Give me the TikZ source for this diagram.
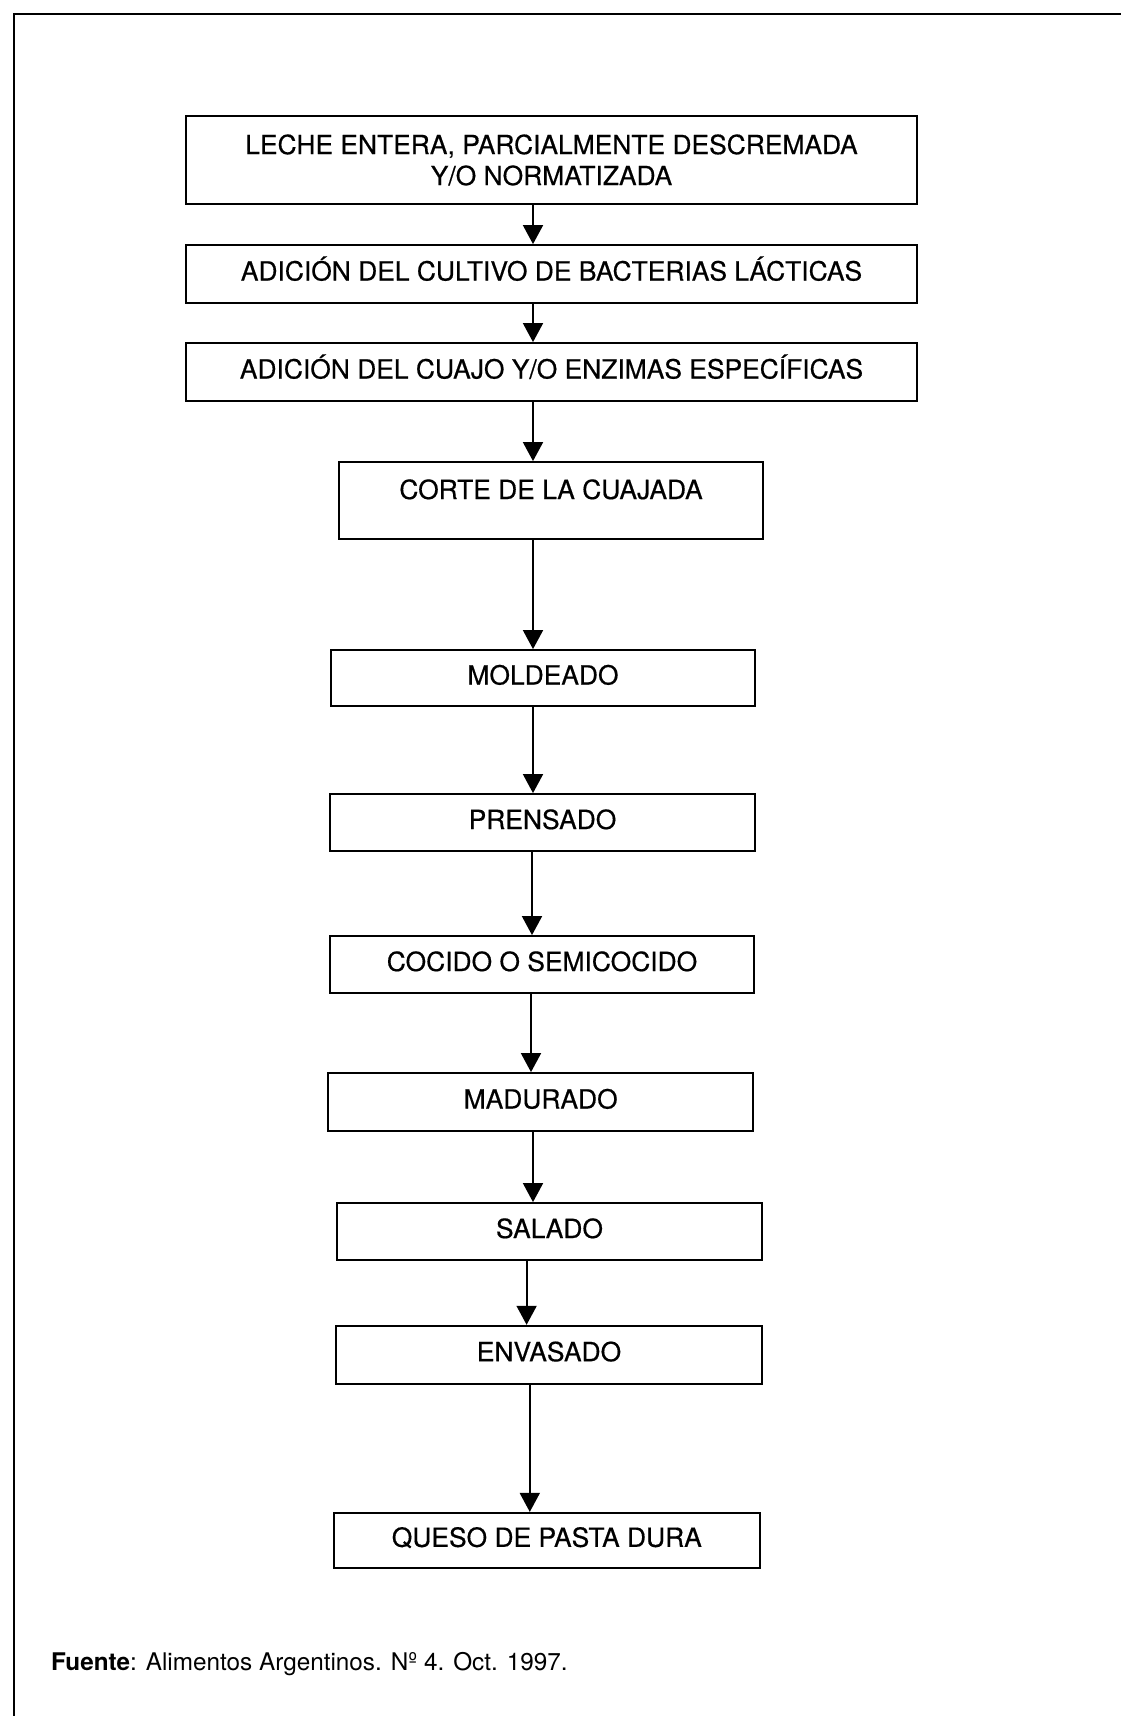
\documentclass[tikz,border=0pt]{standalone}
\usepackage{fontspec}
\setmainfont{TeX Gyre Heros}
\newfontfamily\boxfont{TeX Gyre Heros}[FakeBold=0.5]
\usetikzlibrary{arrows.meta}
\begin{document}
\begin{tikzpicture}[x=1pt,y=-1pt,
  box/.style={draw, line width=1.8pt, inner sep=0pt,
    font=\boxfont\fontsize{26.4}{31}\selectfont, text height=19pt, text depth=6pt},
  arr/.style={line width=1.8pt, -{Triangle[width=20pt,length=19pt]}},
  frame/.style={line width=2.6pt}]
\path[use as bounding box] (0,0) rectangle (1121,1716);
\draw[frame] (14,1716) -- (14,14) -- (1121,14);

\node[box, minimum width=731pt, minimum height=88pt, align=center,
  text height=, text depth=] (b1) at (551.5,160)
  {LECHE ENTERA, PARCIALMENTE DESCREMADA\\Y/O NORMATIZADA};
\node[box, minimum width=731pt, minimum height=58pt] (b2) at (551.5,274)
  {ADICIÓN DEL CULTIVO DE BACTERIAS LÁCTICAS};
\node[box, minimum width=731pt, minimum height=58pt] (b3) at (551.5,372)
  {ADICIÓN DEL CUAJO Y/O ENZIMAS ESPECÍFICAS};
\node[box, minimum width=424pt, minimum height=77pt, text depth=22pt] (b4) at (551,500.5)
  {CORTE DE LA CUAJADA};
\node[box, minimum width=424pt, minimum height=56pt] (b5) at (543,678) {MOLDEADO};
\node[box, minimum width=425pt, minimum height=57pt] (b6) at (542.5,822.5) {PRENSADO};
\node[box, minimum width=424pt, minimum height=57pt] (b7) at (542,964.5) {COCIDO O SEMICOCIDO};
\node[box, minimum width=425pt, minimum height=58pt] (b8) at (540.7,1102) {MADURADO};
\node[box, minimum width=425pt, minimum height=57pt] (b9) at (549.5,1231.5) {SALADO};
\node[box, minimum width=426pt, minimum height=58pt] (b10) at (549,1354.7) {ENVASADO};
\node[box, minimum width=426pt, minimum height=55pt] (b11) at (546.8,1540.3) {QUESO DE PASTA DURA};

\coordinate (x1) at (533,0);
\coordinate (x6) at (532,0);
\coordinate (x7) at (531,0);
\coordinate (x9) at (526.6,0);
\coordinate (x10) at (529.8,0);

\draw[arr] (b1.south -| x1) -- (b2.north -| x1);
\draw[arr] (b2.south -| x1) -- (b3.north -| x1);
\draw[arr] (b3.south -| x1) -- (b4.north -| x1);
\draw[arr] (b4.south -| x1) -- (b5.north -| x1);
\draw[arr] (b5.south -| x1) -- (b6.north -| x1);
\draw[arr] (b6.south -| x6) -- (b7.north -| x6);
\draw[arr] (b7.south -| x7) -- (b8.north -| x7);
\draw[arr] (b8.south -| x1) -- (b9.north -| x1);
\draw[arr] (b9.south -| x9) -- (b10.north -| x9);
\draw[arr] (b10.south -| x10) -- (b11.north -| x10);

\node[anchor=base west, inner sep=0pt, font=\fontsize{24.3}{29}\selectfont] (src) at (51,1670)
  {\textbf{Fuente}: Alimentos Argentinos. Nº 4. Oct. 1997.};
\end{tikzpicture}
\end{document}
